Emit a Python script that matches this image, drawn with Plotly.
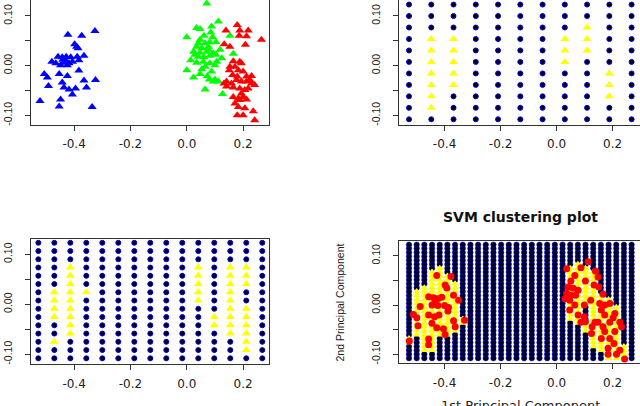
import plotly.graph_objects as go

# ---------------- data ----------------
# panel 1: principal-component scores, coloured by cluster
blue_x = [-0.422, -0.373, -0.326, -0.398, -0.391, -0.386, -0.457, -0.442, -0.428, -0.412,
          -0.389, -0.365, -0.479, -0.465, -0.436, -0.418, -0.406, -0.383, -0.448, -0.424,
          -0.506, -0.495, -0.453, -0.424, -0.383, -0.491, -0.442, -0.436, -0.418, -0.395,
          -0.365, -0.356, -0.324, -0.406, -0.521, -0.448, -0.453, -0.336, -0.430, -0.440]
blue_y = [0.062, 0.060, 0.070, 0.043, 0.038, 0.035, 0.018, 0.017, 0.018, 0.017,
          0.018, 0.020, 0.008, 0.005, 0.006, 0.005, 0.008, 0.011, 0.001, 0.001,
          -0.017, -0.024, -0.017, -0.021, -0.010, -0.041, -0.034, -0.044, -0.048, -0.046,
          -0.030, -0.044, -0.029, -0.058, -0.071, -0.068, -0.082, -0.083, 0.010, 0.012]

green_x = [0.071, 0.035, 0.047, 0.088, 0.112, 0.085, 0.061, 0.000, 0.153, 0.041,
           0.065, 0.082, 0.035, 0.053, 0.077, 0.104, 0.024, 0.047, 0.071, 0.094,
           0.118, 0.041, 0.061, 0.082, 0.104, 0.059, 0.082, 0.124, 0.165, 0.100,
           0.000, 0.053, 0.024, 0.073, 0.100, 0.112, 0.065, 0.127, 0.047, 0.092,
           0.029, 0.077, 0.065, 0.047, 0.088, 0.094, 0.035, 0.106, 0.014, 0.080]
green_y = [0.125, 0.076, 0.074, 0.079, 0.089, 0.067, 0.060, 0.057, 0.060, 0.045,
           0.045, 0.047, 0.038, 0.035, 0.032, 0.047, 0.028, 0.026, 0.028, 0.025,
           0.032, 0.018, 0.017, 0.020, 0.022, 0.008, 0.005, 0.015, 0.024, 0.001,
           -0.009, -0.007, -0.024, -0.021, -0.028, -0.032, -0.048, -0.057, 0.052, 0.057,
           0.022, 0.038, -0.002, -0.017, -0.012, -0.032, 0.006, 0.008, 0.011, -0.028]

red_x = [0.179, 0.139, 0.188, 0.218, 0.186, 0.212, 0.265, 0.133, 0.153, 0.208,
         0.165, 0.188, 0.153, 0.171, 0.194, 0.183, 0.200, 0.163, 0.179, 0.212,
         0.230, 0.141, 0.159, 0.177, 0.194, 0.212, 0.230, 0.241, 0.141, 0.165,
         0.188, 0.206, 0.165, 0.183, 0.200, 0.212, 0.188, 0.183, 0.206, 0.236,
         0.179, 0.200, 0.241, 0.151, 0.218, 0.171, 0.194, 0.224, 0.132]
red_y = [0.082, 0.071, 0.071, 0.071, 0.060, 0.059, 0.052, 0.043, 0.038, 0.042,
         0.009, 0.008, -0.002, -0.002, 0.005, -0.009, -0.012, -0.019, -0.022, -0.022,
         -0.021, -0.032, -0.036, -0.029, -0.032, -0.032, -0.036, -0.039, -0.042, -0.044,
         -0.046, -0.049, -0.063, -0.066, -0.063, -0.068, -0.069, -0.083, -0.086, -0.092,
         -0.100, -0.100, -0.110, -0.009, -0.046, -0.076, -0.056, -0.029, -0.036]

# panel 4: points overlaid in red
svm_x = [-0.428, -0.377, -0.398, -0.392, -0.457, -0.439, -0.424, -0.410, -0.368, -0.445,
         -0.424, -0.400, -0.386, -0.487, -0.350, -0.511, -0.499, -0.457, -0.436, -0.388,
         -0.495, -0.445, -0.428, -0.404, -0.368, -0.362, -0.329, -0.398, -0.526, -0.457,
         -0.457, -0.420, -0.433,
         0.113, 0.036, 0.087, 0.139, 0.148, 0.065, 0.051, 0.103, 0.134, 0.151,
         0.041, 0.059, 0.077, 0.036, 0.051, 0.068, 0.030, 0.047, 0.122, 0.166,
         0.065, 0.099, 0.047, 0.154, 0.172, 0.190, 0.160, 0.077, 0.099, 0.103,
         0.087, 0.172, 0.208, 0.148, 0.190, 0.226, 0.127, 0.166, 0.232, 0.125,
         0.172, 0.208, 0.160, 0.190, 0.205, 0.184, 0.226, 0.184, 0.214, 0.243,
         0.137, 0.202]
svm_y = [0.060, 0.058, 0.041, 0.035, 0.017, 0.015, 0.013, 0.016, 0.020, 0.000,
         -0.001, -0.001, -0.005, -0.003, 0.010, -0.019, -0.026, -0.020, -0.024, -0.012,
         -0.042, -0.037, -0.046, -0.048, -0.032, -0.044, -0.031, -0.060, -0.073, -0.069,
         -0.081, -0.020, 0.007,
         0.088, 0.074, 0.076, 0.069, 0.057, 0.060, 0.049, 0.049, 0.041, 0.037,
         0.037, 0.034, 0.030, 0.024, 0.020, 0.020, 0.013, 0.010, 0.010, 0.022,
         0.000, 0.000, -0.010, 0.003, 0.000, 0.003, -0.010, -0.020, -0.024, -0.034,
         -0.035, -0.020, -0.017, -0.035, -0.035, -0.035, -0.044, -0.044, -0.044, -0.058,
         -0.054, -0.054, -0.068, -0.068, -0.078, -0.088, -0.092, -0.100, -0.100, -0.110,
         -0.035, -0.026]

# prediction grid limits
grid_x_lim = (-0.527, 0.268)
grid_y_lim = (-0.108, 0.123)

# yellow cells: column index -> row indices (row 0 = bottom)
yellow_11 = {1: [1, 2, 3, 4, 5, 6, 7], 2: [3, 4, 5, 6, 7], 7: [5, 6, 7],
             8: [6, 7, 8], 9: [2, 3, 4]}
yellow_15 = {1: [2, 5, 6, 7, 8], 2: list(range(3, 12)), 3: [8],
             10: [7, 8, 9, 10, 11], 11: [4, 5], 12: list(range(3, 12)),
             13: [1, 2, 3, 4, 5, 6, 9, 10, 11]}
# fine grid: column index -> (first row, last row) runs
yellow_30 = {0: [(4, 5)], 1: [(6, 17)], 2: [(2, 18)], 3: [(2, 22)], 4: [(6, 23)],
             5: [(6, 21)], 6: [(7, 19)], 7: [(9, 10)],
             21: [(10, 23)], 22: [(9, 24)], 23: [(14, 23), (7, 9)], 24: [(3, 22)],
             25: [(2, 16)], 26: [(0, 15)], 27: [(0, 13)], 28: [(0, 3)]}


def grid_traces(n, yellow, xa, ya, dot, tri, fill, edge_w):
    xs = [grid_x_lim[0] + (grid_x_lim[1] - grid_x_lim[0]) * i / (n - 1) for i in range(n)]
    ys = [grid_y_lim[0] + (grid_y_lim[1] - grid_y_lim[0]) * j / (n - 1) for j in range(n)]
    inside = set()
    for c, rows in yellow.items():
        for r in rows:
            if isinstance(r, tuple):
                inside.update((c, k) for k in range(r[0], r[1] + 1))
            else:
                inside.add((c, r))
    nx, ny, yx, yy = [], [], [], []
    for c in range(n):
        for r in range(n):
            if (c, r) in inside:
                yx.append(xs[c]); yy.append(ys[r])
            else:
                nx.append(xs[c]); ny.append(ys[r])
    return [
        go.Scatter(x=nx, y=ny, mode="markers", xaxis=xa, yaxis=ya,
                   marker=dict(symbol="circle", size=dot, color=fill,
                               line=dict(color="blue", width=edge_w))),
        go.Scatter(x=yx, y=yy, mode="markers", xaxis=xa, yaxis=ya,
                   marker=dict(symbol="triangle-up", size=tri, color="yellow",
                               line=dict(width=0))),
    ]


fig = go.Figure()

tri = dict(symbol="triangle-up", size=8, line=dict(width=0))
fig.add_trace(go.Scatter(x=blue_x, y=blue_y, mode="markers", marker=dict(color="blue", **tri)))
fig.add_trace(go.Scatter(x=green_x, y=green_y, mode="markers", marker=dict(color="#00ff00", **tri)))
fig.add_trace(go.Scatter(x=red_x, y=red_y, mode="markers", marker=dict(color="red", **tri)))

for t in grid_traces(11, yellow_11, "x2", "y2", 5, 8, "black", 1):
    fig.add_trace(t)
for t in grid_traces(15, yellow_15, "x3", "y3", 5, 8, "black", 1):
    fig.add_trace(t)
for t in grid_traces(30, yellow_30, "x4", "y4", 5.5, 7, "#000018", 0.5):
    fig.add_trace(t)
fig.add_trace(go.Scatter(x=svm_x, y=svm_y, mode="markers", xaxis="x4", yaxis="y4",
                         marker=dict(symbol="circle", size=7, color="red", line=dict(width=0))))

xfont = dict(family="DejaVu Sans", size=12, color="#222")
yfont = dict(family="Liberation Sans", size=10.5, color="#222")


def xax(dom, rng, anchor):
    return dict(domain=dom, range=rng, anchor=anchor, automargin=False,
                showgrid=False, zeroline=False,
                showline=True, linecolor="#333", linewidth=1, mirror=True,
                ticks="outside", ticklen=5, tickcolor="#333",
                tickvals=[-0.4, -0.2, 0.0, 0.2], ticktext=["-0.4", "-0.2", "0.0", "0.2"],
                tickfont=xfont, ticklabelstandoff=3)


def yax(dom, rng, anchor, mirror=True):
    return dict(domain=dom, range=rng, anchor=anchor, automargin=False,
                showgrid=False, zeroline=False,
                showline=True, linecolor="#333", linewidth=1, mirror=mirror,
                ticks="outside", ticklen=5, tickcolor="#333", tickangle=-90,
                tickvals=[-0.10, -0.05, 0.0, 0.05, 0.10],
                ticktext=["-0.10", "", "0.00", "", "0.10"],
                tickfont=yfont, ticklabelstandoff=9)


fig.update_layout(
    template="none",
    width=640, height=406, margin=dict(l=0, r=0, t=0, b=0, autoexpand=False),
    paper_bgcolor="white", plot_bgcolor="white", showlegend=False,
    xaxis=xax([0.048, 0.4208], [-0.554, 0.293], "y"),
    yaxis=yax([0.6921, 1.0], [-0.1195, 0.1322], "x"),
    xaxis2=xax([0.6242, 1.0], [-0.561, 0.298], "y2"),
    yaxis2=yax([0.6921, 1.0], [-0.1195, 0.1322], "x2", mirror=False),
    xaxis3=xax([0.048, 0.4208], [-0.554, 0.293], "y3"),
    yaxis3=yax([0.1027, 0.4106], [-0.120, 0.130], "x3"),
    xaxis4=xax([0.6242, 1.0], [-0.561, 0.298], "y4"),
    yaxis4=yax([0.1052, 0.4071], [-0.1185, 0.131], "x4", mirror=False),
    annotations=[
        dict(text="<b>SVM clustering plot</b>", xref="paper", yref="paper",
             x=0.8125, y=0.4663, xanchor="center", yanchor="middle", showarrow=False,
             font=dict(family="DejaVu Sans", size=14, color="#111")),
        dict(text="2nd Principal Component", xref="paper", yref="paper",
             x=0.53125, y=0.2549, xanchor="center", yanchor="middle", textangle=-90,
             showarrow=False, font=dict(family="Liberation Sans", size=10.5, color="#222")),
        dict(text="1st Principal Component", xref="paper", yref="paper",
             x=0.8125, y=0.024, xanchor="center", yanchor="top", showarrow=False,
             font=dict(family="DejaVu Sans", size=13, color="#222")),
    ],
)

# page body has a default 8px margin; drop it so the figure fills the window
fig.write_html("out.html", config={"displayModeBar": False},
               post_script="document.body.style.margin='0';")
